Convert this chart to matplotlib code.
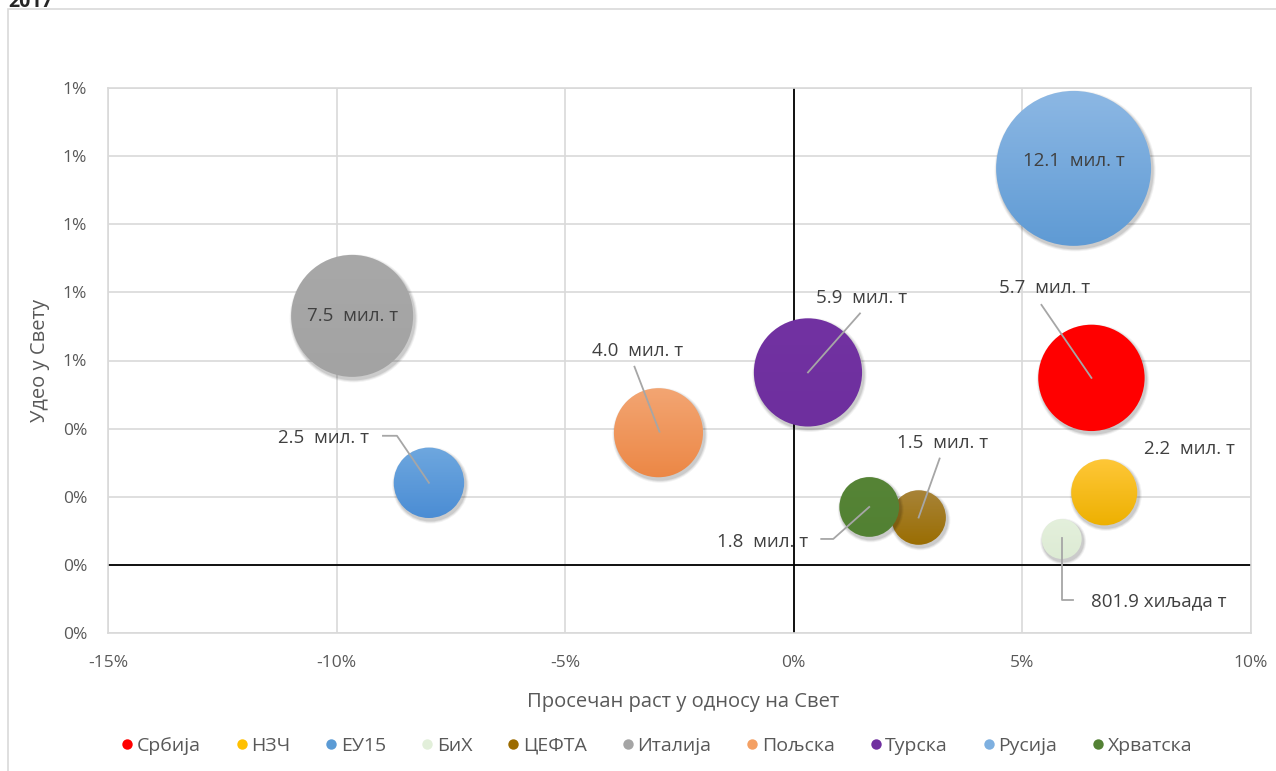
import numpy as np
import matplotlib
matplotlib.use("Agg")
import matplotlib.pyplot as plt
from matplotlib.patches import Circle, Rectangle
from matplotlib.transforms import ScaledTranslation
from matplotlib.colors import LinearSegmentedColormap
from matplotlib.lines import Line2D
from matplotlib.ticker import FuncFormatter, MultipleLocator

plt.rcParams['font.family'] = ['Open Sans', 'DejaVu Sans']

# data
countries = ['Србија', 'НЗЧ', 'ЕУ15', 'БиХ', 'ЦЕФТА', 'Италија', 'Пољска', 'Турска', 'Русија', 'Хрватска']
growth = [6.51, 6.79, -7.98, 5.86, 2.73, -9.66, -2.96, 0.31, 6.12, 1.65]      # % vs world
share = [0.549, 0.213, 0.241, 0.076, 0.139, 0.731, 0.388, 0.565, 1.164, 0.170]  # % of world
volume = [5.7, 2.2, 2.5, 0.8019, 1.5, 7.5, 4.0, 5.9, 12.1, 1.8]              # mil. t
labels = ['5.7  мил. т', '2.2  мил. т', '2.5  мил. т', '801.9 хиљада т', '1.5  мил. т',
          '7.5  мил. т', '4.0  мил. т', '5.9  мил. т', '12.1  мил. т', '1.8  мил. т']

# styles: gradient top / bottom colours, legend colour
top_col = ['#FF0000', '#FFC83A', '#6FA8DF', '#E4F0DC', '#A8843A', '#A8A8A8', '#F3A674', '#7232A2', '#8DB8E4', '#568436']
bot_col = ['#FF0000', '#EDB000', '#4A8CD4', '#DDEBD4', '#9A6D00', '#A3A3A3', '#EC8745', '#6E2F9E', '#5E9AD4', '#528133']
leg_col = ['#FF0000', '#FFC000', '#5B9BD5', '#E2EFDA', '#9C6C00', '#A5A5A5', '#F4A064', '#7030A0', '#7EB0E0', '#548235']

# label placement (pixel offsets from bubble centre, y up) and leader lines
lab_off = [(-47, 90), (85, 43), (-105, 45), (97, -62), (24, 75), (0, 0), (-21, 82), (54, 74), (0, 7), (-107, -35)]
leaders = [[(-50, 73), (0, 0)], None, [(-46, 47), (-32, 47), (0, 0)], [(0, 1), (0, -61), (11, -61)],
           [(21, 59), (0, 0)], None, [(-24, 66), (1, 1)], [(52, 59), (0, 0)], None,
           [(-48, -32), (-36, -32), (0, 0)]]

W, H = 1276, 771
fig = plt.figure(figsize=(W / 100, H / 100), dpi=100)
fig.patches.append(Rectangle((8 / W, -0.1), 1.2, 1.1 - 9 / H, transform=fig.transFigure,
                             facecolor='none', edgecolor='#D9D9D9', lw=1.2))
fig.text(8 / W, 1 - 7 / H, '2017', fontsize=14, fontweight='bold', color='#262626',
         ha='left', va='baseline')

ax = fig.add_axes([108 / W, 1 - 633 / H, (1251 - 108) / W, (633 - 88) / H])
ax.set_xlim(-15, 10)
ax.set_ylim(-0.2, 1.4)
ax.xaxis.set_major_locator(MultipleLocator(5))
ax.yaxis.set_major_locator(MultipleLocator(0.2))
ax.xaxis.set_major_formatter(FuncFormatter(lambda v, p: f"{int(round(v))}%"))
ax.yaxis.set_major_formatter(FuncFormatter(lambda v, p: f"{int(round(v + 1e-9))}%"))
ax.grid(True, color='#D9D9D9', lw=1.2)
ax.set_axisbelow(True)
for s in ax.spines.values():
    s.set_color('#D9D9D9')
    s.set_linewidth(1.2)
ax.tick_params(length=0, labelsize=12.5, labelcolor='#595959')
ax.tick_params(axis='x', pad=16)
ax.tick_params(axis='y', pad=15)
ax.axhline(0, color='black', lw=1.3, zorder=1)
ax.axvline(0, color='black', lw=1.3, zorder=1)

ref_r = 61.0  # px radius of a 7.5 mil. t bubble
for i in range(len(countries)):
    x, y = growth[i], share[i]
    r = ref_r * np.sqrt(volume[i] / 7.5)
    z = 3 + i
    trans = fig.dpi_scale_trans + ScaledTranslation(x, y, ax.transData)
    d = 1 / fig.dpi
    for k, a in [(3, 0.05), (2, 0.07), (1, 0.09)]:
        ax.add_patch(Circle((1.5 * d, -2.5 * d), (r + k) * d, transform=trans,
                            facecolor='black', edgecolor='none', alpha=a, zorder=z))
    circ = Circle((0, 0), r * d, transform=trans, facecolor='none', edgecolor='none')
    ax.add_patch(circ)
    cx, cy = ax.transData.transform((x, y))
    inv = ax.transData.inverted()
    x0, y0 = inv.transform((cx - r - 2, cy - r - 2))
    x1, y1 = inv.transform((cx + r + 2, cy + r + 2))
    cmap = LinearSegmentedColormap.from_list('g%d' % i, [top_col[i], bot_col[i]])
    im = ax.imshow(np.linspace(0, 1, 100).reshape(-1, 1), extent=(x0, x1, y0, y1), origin='upper',
                   cmap=cmap, aspect='auto', interpolation='bilinear', zorder=z + 0.5)
    im.set_clip_path(circ)

ax.set_xlim(-15, 10)
ax.set_ylim(-0.2, 1.4)

for i in range(len(countries)):
    trans = fig.dpi_scale_trans + ScaledTranslation(growth[i], share[i], ax.transData)
    d = 1 / fig.dpi
    if leaders[i]:
        pts = np.array(leaders[i]) * d
        ax.plot(pts[:, 0], pts[:, 1], color='#A6A6A6', lw=1.3, transform=trans, zorder=20, clip_on=False)
    ox, oy = lab_off[i]
    ax.text(ox * d, oy * d, labels[i], transform=trans, ha='center', va='center',
            fontsize=13.5, color='#404040', zorder=21)

fig.text(683 / W, 1 - 702 / H, 'Просечан раст у односу на Свет', ha='center', va='center',
         fontsize=14.5, color='#595959')
fig.text(40 / W, 1 - 360 / H, 'Удео у Свету', ha='center', va='center', rotation=90,
         fontsize=14.5, color='#595959')

handles = [Line2D([], [], marker='o', ls='none', markersize=7.5, markerfacecolor=c, markeredgecolor='none')
           for c in leg_col]
fig.legend(handles, countries, loc='center', bbox_to_anchor=(655 / W, 1 - 746 / H), ncol=10,
           frameon=False, fontsize=14, labelcolor='#595959', handletextpad=0.0,
           columnspacing=1.6, handlelength=1.0)

fig.savefig('out.png', dpi=100)
